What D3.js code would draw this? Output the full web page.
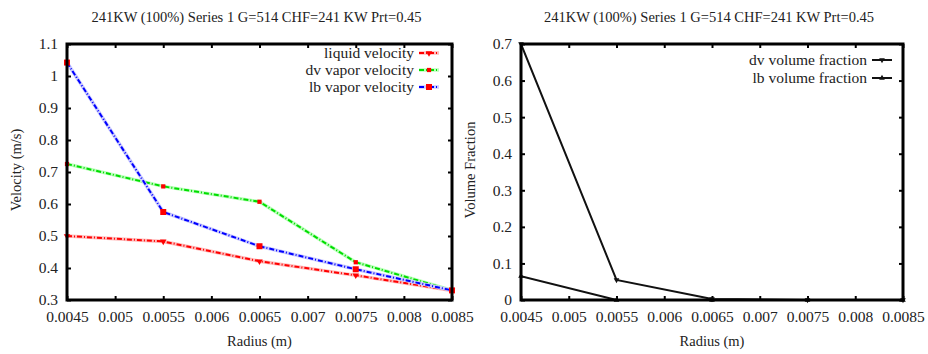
<!DOCTYPE html>
<html>
<head>
<meta charset="utf-8">
<script src="https://cdn.jsdelivr.net/npm/d3@7"></script>
<style>
  body { margin: 0; background: #fff; }
</style>
</head>
<body>
<div id="chart"></div>
<script>
// data
var radius = [0.0045, 0.0055, 0.0065, 0.0075, 0.0085];
var liquidVelocity = [0.5, 0.483, 0.421, 0.377, 0.33];
var dvVaporVelocity = [0.725, 0.655, 0.607, 0.418, 0.33];
var lbVaporVelocity = [1.042, 0.575, 0.468, 0.396, 0.33];
var dvVolumeFraction = [0.7, 0.055, 0.003, 0, 0];
var lbVolumeFraction = [0.065, 0, 0, 0, 0];
var xTicks = [0.0045, 0.005, 0.0055, 0.006, 0.0065, 0.007, 0.0075, 0.008, 0.0085];
var velTicks = [0.3, 0.4, 0.5, 0.6, 0.7, 0.8, 0.9, 1, 1.1];
var fracTicks = [0, 0.1, 0.2, 0.3, 0.4, 0.5, 0.6, 0.7];
var title = "241KW (100%) Series 1 G=514 CHF=241 KW Prt=0.45";

var FONT = "Liberation Serif";

var svg = d3.select("#chart").append("svg")
  .attr("width", 928)
  .attr("height", 354)
  .attr("font-family", FONT);

function label(sel, size) {
  return sel.attr("font-family", FONT).attr("font-size", size)
    .style("font-family", FONT).style("font-size", size + "px").attr("fill", "#222");
}

function drawPanel(opt) {
  var x = d3.scaleLinear().domain([0.0045, 0.0085]).range([opt.left, opt.right]);
  var y = d3.scaleLinear().domain(opt.yDomain).range([300, 44]);
  var g = svg.append("g");

  // title
  label(g.append("text"), 14.5)
    .attr("x", (opt.left + opt.right) / 2 - 3)
    .attr("y", 22)
    .attr("text-anchor", "middle")
    .text(title);

  // axes, ticks pointing inward, labels outside
  var bottom = g.append("g").attr("transform", "translate(0,300)")
    .call(d3.axisBottom(x).tickValues(xTicks).tickSize(-4).tickPadding(11).tickFormat(d3.format("")));
  var top = g.append("g").attr("transform", "translate(0,44)")
    .call(d3.axisTop(x).tickValues(xTicks).tickSize(-4).tickFormat(""));
  var left = g.append("g").attr("transform", `translate(${opt.left},0)`)
    .call(d3.axisLeft(y).tickValues(opt.yTicks).tickSize(-4).tickPadding(9).tickFormat(d3.format("")));
  var right = g.append("g").attr("transform", `translate(${opt.right},0)`)
    .call(d3.axisRight(y).tickValues(opt.yTicks).tickSize(-4).tickFormat(""));
  [bottom, top, left, right].forEach(function(a) {
    a.attr("font-family", FONT).attr("font-size", 15.5);
    a.select(".domain").remove();
    a.selectAll(".tick line").attr("stroke", "#000").attr("stroke-width", 2);
    label(a.selectAll(".tick text"), 15.5);
  });

  // axis titles
  label(g.append("text"), 14.5)
    .attr("x", (opt.left + opt.right) / 2)
    .attr("y", 346)
    .attr("text-anchor", "middle")
    .text("Radius (m)");
  label(g.append("text"), 14.5)
    .attr("transform", `translate(${opt.left - 46},${opt.yLabelY}) rotate(-90)`)
    .attr("text-anchor", "middle")
    .text(opt.yLabel);

  var line = d3.line().x(function(d) { return x(d[0]); }).y(function(d) { return y(d[1]); });

  var clip = "clip" + opt.left;
  svg.append("clipPath").attr("id", clip).append("rect")
    .attr("x", opt.left).attr("y", 44).attr("width", opt.right - opt.left).attr("height", 256);

  opt.series.forEach(function(s) {
    var pts = radius.map(function(r, i) { return [r, s.values[i]]; });
    if (s.halo) {
      g.append("path").datum(pts).attr("d", line).attr("fill", "none")
        .attr("stroke", s.halo).attr("stroke-width", 3.5).attr("clip-path", `url(#${clip})`);
    }
    g.append("path").datum(pts).attr("d", line).attr("fill", "none")
      .attr("stroke", s.color).attr("stroke-width", s.width)
      .attr("stroke-dasharray", s.dash).attr("clip-path", `url(#${clip})`);
    g.selectAll(null).data(pts).enter().append("path")
      .attr("transform", function(d) { return `translate(${x(d[0])},${y(d[1])}) rotate(${s.rot || 0})`; })
      .attr("d", d3.symbol().type(s.symbol).size(s.symSize))
      .attr("fill", s.markColor);
  });

  // frame
  g.append("rect")
    .attr("x", opt.left).attr("y", 44)
    .attr("width", opt.right - opt.left).attr("height", 256)
    .attr("fill", "none").attr("stroke", "#000").attr("stroke-width", 3);

  // legend
  opt.series.forEach(function(s, i) {
    var ly = opt.legendY + i * opt.legendStep;
    label(g.append("text"), 15.5)
      .attr("x", opt.legendX)
      .attr("y", ly + 5)
      .attr("text-anchor", "end")
      .text(s.name);
    if (s.halo) {
      g.append("line").attr("x1", opt.legendX + 5).attr("x2", opt.legendX + 25)
        .attr("y1", ly).attr("y2", ly).attr("stroke", s.halo).attr("stroke-width", 3.5);
    }
    g.append("line").attr("x1", opt.legendX + 5).attr("x2", opt.legendX + 25)
      .attr("y1", ly).attr("y2", ly).attr("stroke", s.color).attr("stroke-width", s.width)
      .attr("stroke-dasharray", s.dash);
    g.append("path")
      .attr("transform", `translate(${opt.legendX + 15},${ly}) rotate(${s.rot || 0})`)
      .attr("d", d3.symbol().type(s.symbol).size(s.symSize))
      .attr("fill", s.markColor);
  });
}

drawPanel({
  left: 67, right: 452,
  yDomain: [0.3, 1.1], yTicks: velTicks,
  yLabel: "Velocity (m/s)", yLabelY: 170,
  legendX: 414, legendY: 53, legendStep: 17,
  series: [
    { name: "liquid velocity", values: liquidVelocity, color: "#f00", halo: "#fbb", width: 2, dash: "5,2,1,2", symbol: d3.symbolTriangle, symSize: 18, rot: 180, markColor: "#f00" },
    { name: "dv vapor velocity", values: dvVaporVelocity, color: "#0d0", halo: "#bfb", width: 2, dash: "5,2,1,2", symbol: d3.symbolSquare, symSize: 18, markColor: "#f00" },
    { name: "lb vapor velocity", values: lbVaporVelocity, color: "#00f", halo: "#ccf", width: 2, dash: "5,2,1,2", symbol: d3.symbolSquare, symSize: 36, markColor: "#f00" }
  ]
});

drawPanel({
  left: 521, right: 903,
  yDomain: [0, 0.7], yTicks: fracTicks,
  yLabel: "Volume Fraction", yLabelY: 170,
  legendX: 867, legendY: 60, legendStep: 18,
  series: [
    { name: "dv volume fraction", values: dvVolumeFraction, color: "#111", halo: null, width: 2, dash: null, symbol: d3.symbolTriangle, symSize: 14, rot: 180, markColor: "#111" },
    { name: "lb volume fraction", values: lbVolumeFraction, color: "#111", halo: null, width: 2, dash: null, symbol: d3.symbolTriangle, symSize: 14, markColor: "#111" }
  ]
});
</script>
</body>
</html>
